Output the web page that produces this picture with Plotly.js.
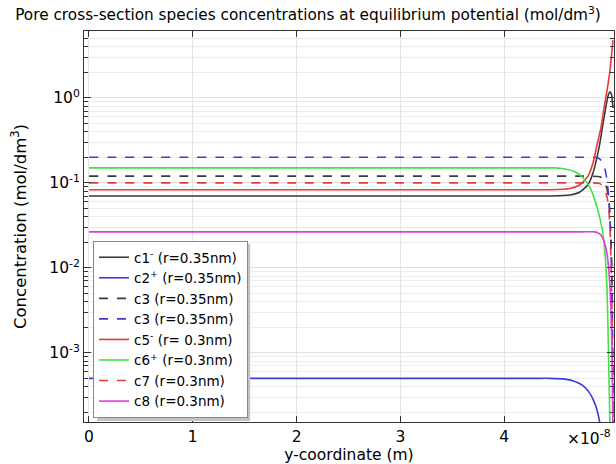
<!DOCTYPE html>
<html>
<head>
<meta charset="utf-8">
<script src="https://cdn.plot.ly/plotly-3.0.1.min.js"></script>
<style>html,body{margin:0;padding:0;background:#fff;}#chart{width:616px;height:464px;}</style>
</head>
<body>
<div id="chart"></div>
<script>
// x values in units of 1e-8 m
const seriesNames = [
  'c1<sup>-</sup> (r=0.35nm)',
  'c2<sup>+</sup> (r=0.35nm)',
  'c3 (r=0.35nm)',
  'c3 (r=0.35nm)',
  'c5<sup>-</sup> (r= 0.3nm)',
  'c6<sup>+</sup> (r=0.3nm)',
  'c7 (r=0.3nm)',
  'c8 (r=0.3nm)'
];

const c1_x = [0, 2.0, 4.0, 4.3, 4.441, 4.634, 4.730, 4.807, 4.855, 4.894, 4.923, 4.952, 4.981, 5.000, 5.019, 5.034, 5.048];
const c1_y = [0.070, 0.070, 0.070, 0.070, 0.070, 0.072, 0.078, 0.095, 0.13, 0.2, 0.3, 0.5, 0.8, 1.05, 1.18, 1.1, 0.76];

const c2_x = [0, 2.0, 4.0, 4.3, 4.441, 4.586, 4.682, 4.759, 4.827, 4.875, 4.904, 4.923, 4.933];
const c2_y = [5.0e-4, 5.0e-4, 5.0e-4, 5.0e-4, 5.0e-4, 4.9e-4, 4.6e-4, 4.1e-4, 3.3e-4, 2.5e-4, 1.9e-4, 1.45e-4, 1.2e-4];

const c3a_x = [0, 2.0, 4.3, 4.7, 4.827, 4.923, 4.952, 4.971, 4.990, 5.010, 5.029, 5.039, 5.048];
const c3a_y = [0.12, 0.12, 0.12, 0.12, 0.12, 0.118, 0.11, 0.10, 0.085, 0.06, 0.02, 0.005, 2.6e-4];

const c3b_x = [0, 2.0, 4.3, 4.75, 4.875, 4.923, 4.961, 4.990, 5.010, 5.029, 5.039, 5.044, 5.050];
const c3b_y = [0.2, 0.2, 0.2, 0.2, 0.2, 0.19, 0.16, 0.11, 0.06, 0.02, 0.006, 0.001, 1.0e-4];

const c5_x = [0, 2.0, 4.0, 4.3, 4.441, 4.634, 4.730, 4.807, 4.855, 4.894, 4.933, 4.961, 4.990, 5.019, 5.048];
const c5_y = [0.083, 0.083, 0.083, 0.083, 0.083, 0.086, 0.095, 0.12, 0.17, 0.28, 0.45, 0.75, 1.2, 2.1, 4.8];

const c6_x = [0, 2.0, 4.0, 4.35, 4.489, 4.586, 4.682, 4.759, 4.827, 4.875, 4.923, 4.952, 4.971, 4.990, 5.000, 5.010, 5.019];
const c6_y = [0.15, 0.15, 0.15, 0.15, 0.15, 0.146, 0.135, 0.115, 0.088, 0.062, 0.038, 0.025, 0.015, 0.006, 0.002, 5e-4, 1.4e-4];

const c7_x = [0, 2.0, 4.3, 4.7, 4.855, 4.923, 4.952, 4.981, 5.000, 5.019, 5.029, 5.039, 5.044, 5.048];
const c7_y = [0.1, 0.1, 0.1, 0.1, 0.1, 0.098, 0.09, 0.075, 0.06, 0.03, 0.012, 0.003, 5e-4, 1e-4];

const c8_x = [0, 2.0, 4.3, 4.75, 4.875, 4.923, 4.952, 4.981, 5.000, 5.019, 5.029, 5.039, 5.044, 5.048];
const c8_y = [0.0265, 0.0265, 0.0265, 0.0265, 0.0265, 0.025, 0.022, 0.017, 0.012, 0.006, 0.003, 0.001, 3e-4, 1e-4];

const xTickVals = [0, 1, 2, 3, 4];
const yTickVals = [1e-3, 1e-2, 1e-1, 1];
const yTickText = ['10<sup>-3</sup>', '10<sup>-2</sup>', '10<sup>-1</sup>', '10<sup>0</sup>'];

const xs = [c1_x, c2_x, c3a_x, c3b_x, c5_x, c6_x, c7_x, c8_x];
const ys = [c1_y, c2_y, c3a_y, c3b_y, c5_y, c6_y, c7_y, c8_y];
const colors = ['#3a3a3a', '#3c3cdc', '#3a3a3a', '#3c3cdc', '#e8393c', '#45e045', '#e8393c', '#e03ce0'];
const dashes = ['solid', 'solid', 'dash', 'dash', 'solid', 'solid', 'dash', 'solid'];

const traces = xs.map((x, i) => ({
  x: x, y: ys[i], name: seriesNames[i], type: 'scatter', mode: 'lines',
  line: {color: colors[i], width: 1.6, dash: dashes[i], shape: 'spline', smoothing: 0.6}
}));

const minorVals = [];
for (let e = -4; e <= 0; e++) {
  for (let m = 2; m <= 9; m++) minorVals.push(m * Math.pow(10, e));
}

const FS = 15.5;
const font = {family: 'DejaVu Sans, sans-serif', size: FS, color: '#000'};

const layout = {
  width: 616, height: 464,
  margin: {l: 84, r: 2, t: 31, b: 42},
  paper_bgcolor: '#fff', plot_bgcolor: '#fff',
  font: font,
  showlegend: true,
  title: {
    text: 'Pore cross-section species concentrations at equilibrium potential (mol/dm<sup>3</sup>)',
    font: {family: 'DejaVu Sans, sans-serif', size: 15.3, color: '#000'},
    x: 0.5, xref: 'container', xanchor: 'center',
    y: 0.968, yref: 'container', yanchor: 'middle'
  },
  xaxis: {
    range: [-0.048, 5.058],
    tickvals: xTickVals,
    ticks: 'inside', ticklen: 6, tickcolor: '#333',
    showline: true, linecolor: '#333', linewidth: 1, mirror: 'ticks',
    showgrid: true, gridcolor: '#e4e4e4', gridwidth: 1,
    zeroline: false,
    tickfont: font,
    title: {text: 'y-coordinate (m)', font: font, standoff: 0}
  },
  yaxis: {
    type: 'log',
    range: [-3.815, 0.788],
    tickvals: yTickVals, ticktext: yTickText,
    ticks: 'inside', ticklen: 7, tickcolor: '#333',
    showline: true, linecolor: '#333', linewidth: 1, mirror: 'ticks',
    showgrid: true, gridcolor: '#e0e0e0', gridwidth: 1,
    zeroline: false,
    tickfont: font,
    minor: {tickvals: minorVals, ticks: 'inside', ticklen: 4, tickcolor: '#333', showgrid: true, gridcolor: '#ececec', gridwidth: 1},
    title: {text: 'Concentration (mol/dm<sup>3</sup>)', font: {family: 'DejaVu Sans, sans-serif', size: 16.5, color: '#000'}, standoff: 18}
  },
  legend: {
    x: 0.017, y: 0.463, xanchor: 'left', yanchor: 'top',
    bgcolor: '#fff', bordercolor: '#888', borderwidth: 1,
    font: {family: 'DejaVu Sans, sans-serif', size: 13.5, color: '#000'}, traceorder: 'normal'
  },
  shapes: [{
    type: 'rect', xref: 'paper', yref: 'paper', layer: 'above',
    x0: 0.0245, x1: 0.3135, y0: 0.0026, y1: 0.455,
    fillcolor: '#c4c4c4', line: {width: 0}
  }],
  annotations: [{
    text: '×10<sup>-8</sup>', xref: 'paper', yref: 'paper', x: 0.999, y: 0,
    xanchor: 'right', yanchor: 'top', yshift: -3, showarrow: false, font: font
  }]
};

Plotly.newPlot('chart', traces, layout, {displayModeBar: false, staticPlot: true});
</script>
</body>
</html>
